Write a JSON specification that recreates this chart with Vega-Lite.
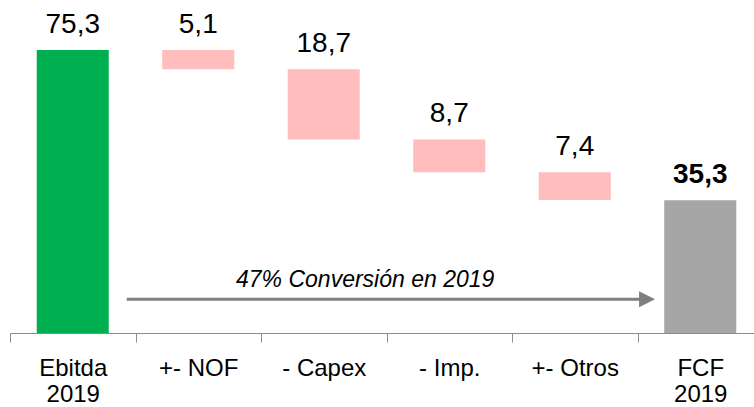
{
  "$schema": "https://vega.github.io/schema/vega-lite/v6.json",
  "width": 744,
  "height": 333,
  "autosize": {"type": "none"},
  "padding": {"left": 10, "top": 0, "right": 0, "bottom": 74},
  "config": {"view": {"stroke": null}, "font": "Liberation Sans"},
  "datasets": {
    "steps": [
      {"cat": "Ebitda 2019", "start": 0, "end": 75.3, "label": "75,3", "kind": "total_start"},
      {"cat": "+- NOF", "start": 75.3, "end": 70.2, "label": "5,1", "kind": "delta"},
      {"cat": "- Capex", "start": 70.2, "end": 51.5, "label": "18,7", "kind": "delta"},
      {"cat": "- Imp.", "start": 51.5, "end": 42.8, "label": "8,7", "kind": "delta"},
      {"cat": "+- Otros", "start": 42.8, "end": 35.4, "label": "7,4", "kind": "delta"},
      {"cat": "FCF 2019", "start": 0, "end": 35.3, "label": "35,3", "kind": "total_end"}
    ],
    "arrow": [{"x": 0.93, "x2": 5.03, "y": 9.0, "head": 5.076}],
    "note": [{"x": 2.83, "y": 12.3, "text": "47% Conversión en 2019"}]
  },
  "resolve": {"scale": {"x": "independent"}, "axis": {"x": "independent"}},
  "layer": [
    {
      "data": {"name": "steps"},
      "transform": [{"calculate": "max(datum.start, datum.end)", "as": "top"}],
      "layer": [
        {
          "mark": {"type": "bar"},
          "encoding": {
            "x": {
              "field": "cat", "type": "nominal", "sort": null,
              "scale": {
                "domain": ["Ebitda 2019", "+- NOF", "- Capex", "- Imp.", "+- Otros", "FCF 2019"],
                "range": [0, 753], "paddingInner": 0.426, "paddingOuter": 0.213
              },
              "axis": {
                "title": null, "domainColor": "#8c8c8c", "domainWidth": 1,
                "tickColor": "#8c8c8c", "tickSize": 9, "tickWidth": 1,
                "tickOffset": -62.75, "labelOffset": 62.75,
                "labelFontSize": 24, "labelColor": "#000000", "labelAngle": 0,
                "labelPadding": 14, "labelLineHeight": 26, "labelOverlap": false,
                "labelFont": "Liberation Sans", "grid": false, "labelLimit": 0,
                "labelExpr": "datum.label == 'Ebitda 2019' ? ['Ebitda', '2019'] : datum.label == 'FCF 2019' ? ['FCF', '2019'] : datum.label"
              }
            },
            "y": {"field": "start", "type": "quantitative", "scale": {"domain": [0, 88.6], "nice": false, "zero": true}, "axis": null},
            "y2": {"field": "end"},
            "color": {
              "field": "kind", "type": "nominal",
              "scale": {"domain": ["total_start", "delta", "total_end"], "range": ["#00b050", "#ffbdbd", "#a6a6a6"]},
              "legend": null
            }
          }
        },
        {
          "transform": [{"filter": "datum.kind != 'total_end'"}],
          "mark": {"type": "text", "fontSize": 28, "baseline": "alphabetic", "dy": -17, "color": "#000000", "font": "Liberation Sans"},
          "encoding": {
            "x": {"field": "cat", "type": "nominal", "sort": null},
            "y": {"field": "top", "type": "quantitative"},
            "text": {"field": "label"}
          }
        },
        {
          "transform": [{"filter": "datum.kind == 'total_end'"}],
          "mark": {"type": "text", "fontSize": 28, "fontWeight": "bold", "baseline": "alphabetic", "dy": -17, "color": "#000000", "font": "Liberation Sans"},
          "encoding": {
            "x": {"field": "cat", "type": "nominal", "sort": null},
            "y": {"field": "top", "type": "quantitative"},
            "text": {"field": "label"}
          }
        }
      ]
    },
    {
      "layer": [
        {
          "data": {"name": "arrow"},
          "mark": {"type": "rule", "color": "#7f7f7f", "strokeWidth": 3},
          "encoding": {
            "x": {"field": "x", "type": "quantitative", "scale": {"domain": [0, 6], "range": [0, 753], "nice": false, "zero": false}, "axis": null},
            "x2": {"field": "x2"},
            "y": {"field": "y", "type": "quantitative"}
          }
        },
        {
          "data": {"name": "arrow"},
          "mark": {"type": "point", "shape": "M -1 -1 L 1 0 L -1 1 Z", "filled": true, "color": "#7f7f7f", "opacity": 1, "size": 256},
          "encoding": {
            "x": {"field": "head", "type": "quantitative"},
            "y": {"field": "y", "type": "quantitative"}
          }
        },
        {
          "data": {"name": "note"},
          "mark": {"type": "text", "fontSize": 23, "fontStyle": "italic", "baseline": "alphabetic", "align": "center", "color": "#000000", "font": "Liberation Sans"},
          "encoding": {
            "x": {"field": "x", "type": "quantitative"},
            "y": {"field": "y", "type": "quantitative"},
            "text": {"field": "text"}
          }
        }
      ]
    }
  ]
}
